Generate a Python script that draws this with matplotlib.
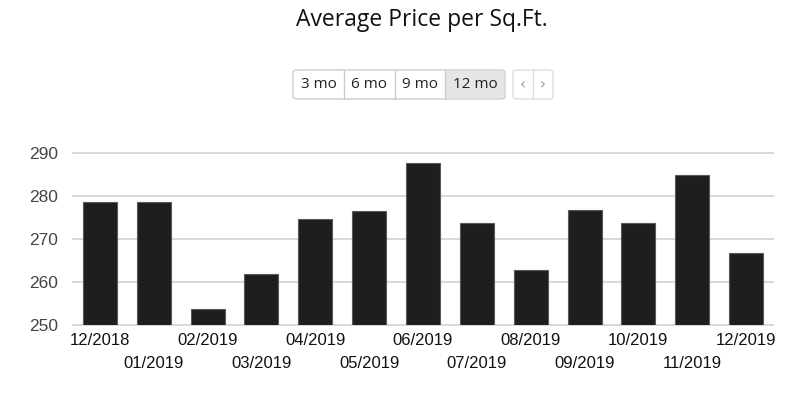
import matplotlib.pyplot as plt
from matplotlib.patches import FancyBboxPatch, Rectangle

months = ["12/2018", "01/2019", "02/2019", "03/2019", "04/2019", "05/2019", "06/2019",
          "07/2019", "08/2019", "09/2019", "10/2019", "11/2019", "12/2019"]
prices = [278.8, 278.8, 253.7, 261.9, 274.8, 276.7, 287.9, 273.9, 262.8, 276.8, 273.9, 285.1, 266.8]
yticks = [250, 260, 270, 280, 290]
ranges = ["3 mo", "6 mo", "9 mo", "12 mo"]
selected = "12 mo"

W, H = 812, 396
fig = plt.figure(figsize=(W / 100, H / 100), dpi=100)
ax = fig.add_axes([73 / W, 1 - 325 / H, 700 / W, (325 - 153.5) / H])

x = list(range(len(months)))
ax.bar(x, prices, width=0.63, color="#1e1e1e", edgecolor="#5a5a5a", linewidth=0.8, zorder=3)
ax.set_xlim(-0.5, len(months) - 0.5)
ax.set_ylim(250, 290)
ax.set_yticks(yticks)
ax.yaxis.grid(True, color="#d8d8d8", linewidth=1.4, zorder=0)
for gl in ax.get_ygridlines():
    gl.set_clip_on(False)

# staggered month labels: even months on the first row, odd months on the second
ax.set_xticks(x[0::2])
ax.set_xticklabels(months[0::2])
ax.set_xticks(x[1::2], minor=True)
ax.set_xticklabels(months[1::2], minor=True)
for lab in ax.get_xticklabels(which="both"):
    lab.set_family("Liberation Sans")
    lab.set_fontsize(12)
    lab.set_color("#111111")
for lab in ax.get_yticklabels():
    lab.set_family("Liberation Sans")
    lab.set_fontsize(12.5)
    lab.set_color("#444444")
ax.tick_params(axis="y", length=0, pad=11)
ax.tick_params(axis="x", which="major", length=0, pad=6)
ax.tick_params(axis="x", which="minor", length=0, pad=22)
for s in ax.spines.values():
    s.set_visible(False)

fig.text(422 / W, 1 - 20 / H, "Average Price per Sq.Ft.", ha="center", va="center",
         fontsize=16.5, family="Open Sans", color="#111111")

# range buttons
edges = [293, 344, 395, 445, 505]
y0, y1 = 70, 99
fig.patches.append(FancyBboxPatch((edges[0] / W, 1 - y1 / H), (edges[-1] - edges[0]) / W, (y1 - y0) / H,
                                  boxstyle="round,pad=0,rounding_size=0.006", transform=fig.transFigure,
                                  facecolor="white", edgecolor="#cccccc", linewidth=1))
for i, lab in enumerate(ranges):
    l, r = edges[i], edges[i + 1]
    if lab == selected:
        fig.patches.append(Rectangle((l / W, 1 - (y1 - 1) / H), (r - l - 1) / W, (y1 - y0 - 2) / H,
                                     transform=fig.transFigure, facecolor="#e6e6e6", edgecolor="none"))
    if i > 0:
        fig.add_artist(plt.Line2D([l / W, l / W], [1 - y1 / H, 1 - y0 / H], color="#cccccc", lw=1))
    fig.text((l + r) / 2 / W, 1 - 85 / H, lab, ha="center", va="center", fontsize=11,
             family="Open Sans", color="#222222")

# navigation buttons
fig.patches.append(FancyBboxPatch((513 / W, 1 - y1 / H), 40 / W, (y1 - y0) / H,
                                  boxstyle="round,pad=0,rounding_size=0.006", transform=fig.transFigure,
                                  facecolor="white", edgecolor="#dddddd", linewidth=1))
fig.add_artist(plt.Line2D([533 / W, 533 / W], [1 - y1 / H, 1 - y0 / H], color="#dddddd", lw=1))
fig.text(523 / W, 1 - 85 / H, "‹", ha="center", va="center", fontsize=11, color="#999999")
fig.text(543 / W, 1 - 85 / H, "›", ha="center", va="center", fontsize=11, color="#999999")

fig.savefig("out.png", dpi=100)
